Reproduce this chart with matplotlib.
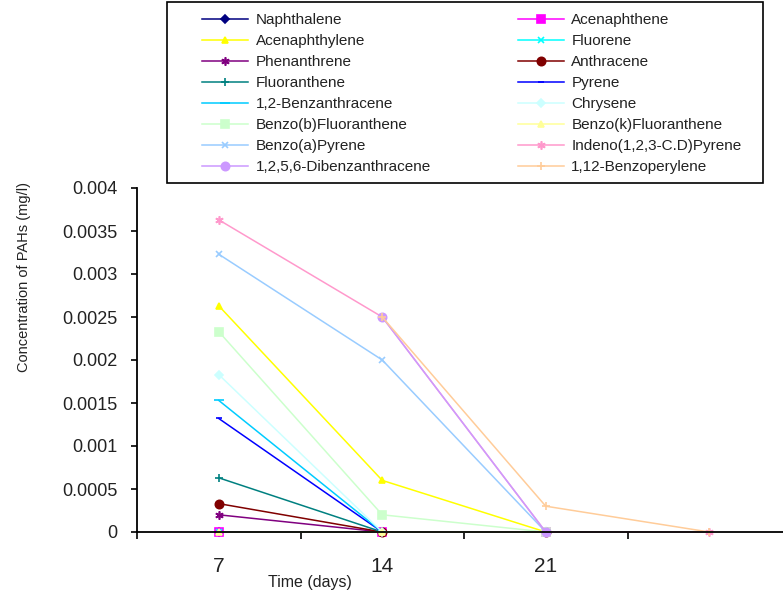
import numpy as np
import matplotlib.pyplot as plt
from matplotlib.patches import Rectangle

days = ["7", "14", "21", ""]
nan = np.nan

names = ["Naphthalene", "Acenaphthene", "Acenaphthylene", "Fluorene",
         "Phenanthrene", "Anthracene", "Fluoranthene", "Pyrene",
         "1,2-Benzanthracene", "Chrysene", "Benzo(b)Fluoranthene",
         "Benzo(k)Fluoranthene", "Benzo(a)Pyrene", "Indeno(1,2,3-C.D)Pyrene",
         "1,2,5,6-Dibenzanthracene", "1,12-Benzoperylene"]

naphthalene = [0, 0, 0, nan]
acenaphthene = [0, 0, 0, nan]
acenaphthylene = [0.00263, 0.0006, 0, nan]
fluorene = [0, 0, 0, nan]
phenanthrene = [0.0002, 0, 0, nan]
anthracene = [0.00033, 0, 0, nan]
fluoranthene = [0.00063, 0, 0, nan]
pyrene = [0.00132, 0, 0, nan]
benzanthracene = [0.00153, 0, 0, nan]
chrysene = [0.00183, 0, 0, nan]
benzo_b = [0.00233, 0.0002, 0, nan]
benzo_k = [0, 0, 0, nan]
benzo_a = [0.00323, 0.002, 0, nan]
indeno = [0.00363, 0.0025, 0, 0]
dibenz = [nan, 0.0025, 0, nan]
benzoperylene = [nan, 0.0025, 0.0003, 0]

series = [naphthalene, acenaphthene, acenaphthylene, fluorene, phenanthrene,
          anthracene, fluoranthene, pyrene, benzanthracene, chrysene, benzo_b,
          benzo_k, benzo_a, indeno, dibenz, benzoperylene]

colors = ["#000080", "#FF00FF", "#FFFF00", "#00FFFF", "#800080", "#800000",
          "#008080", "#0000FF", "#00CCFF", "#CCFFFF", "#CCFFCC", "#FFFF99",
          "#99CCFF", "#FF99CC", "#CC99FF", "#FFCC99"]
markers = ["D", "s", "^", "x", (6, 2, 0), "o", "+", "_", "_", "D", "s", "^",
           "x", (6, 2, 0), "o", "+"]
msizes = [4, 6, 5, 5, 6, 6, 6, 4, 7, 4, 6, 5, 5, 6, 6, 6]

plt.rcParams['font.family'] = ['Liberation Sans', 'DejaVu Sans']

fig = plt.figure(figsize=(7.83, 5.95), dpi=100)
ax = fig.add_axes([137 / 783, 63 / 595, 654 / 783, 344 / 595])

x = np.arange(len(days))
handles = []
for vals, name, c, m, ms in zip(series, names, colors, markers, msizes):
    h, = ax.plot(x, vals, color=c, marker=m, markersize=ms, linewidth=1.1,
                 markerfacecolor=c, markeredgecolor=c, markeredgewidth=1.2,
                 label=name, clip_on=False)
    handles.append(h)

ax.set_xlim(-0.5, 3.5)
ax.set_ylim(0, 0.004)
yt = np.arange(0, 0.00401, 0.0005)
ax.set_yticks(yt)
ax.set_yticklabels(["0", "0.0005", "0.001", "0.0015", "0.002", "0.0025",
                    "0.003", "0.0035", "0.004"], fontsize=13, color="#222222")
ax.set_xticks([-0.5, 0.5, 1.5, 2.5])
ax.set_xticklabels([])
ax.set_xticks(x, minor=True)
ax.set_xticklabels(days, minor=True, fontsize=15, color="#222222")
ax.tick_params(axis="x", which="minor", length=0, pad=18)
ax.tick_params(axis="x", which="major", length=5, direction="out", width=1.2)
ax.tick_params(axis="y", length=4, direction="out", width=1.2, pad=10)
for s in ["top", "right"]:
    ax.spines[s].set_visible(False)
for s in ["left", "bottom"]:
    ax.spines[s].set_linewidth(1.3)

fig.text(310 / 783, 1 - 582 / 595, "Time (days)", fontsize=11.5,
         ha="center", va="center", color="#222222")
fig.text(24 / 783, 1 - 277 / 595, "Concentration of PAHs (mg/l)",
         rotation=90, ha="center", va="center", fontsize=10.5, color="#222222")

# legend box drawn separately so the entries can sit where the original has them
fig.patches.append(Rectangle((167 / 783, 1 - 183 / 595), 596 / 783, 181 / 595,
                             transform=fig.transFigure, fill=False,
                             edgecolor="black", linewidth=1.2))
order = list(range(0, 16, 2)) + list(range(1, 16, 2))
leg = fig.legend([handles[i] for i in order], [names[i] for i in order],
                 ncol=2, loc="upper left",
                 bbox_to_anchor=(202 / 783, 1 - 13 / 595), fontsize=11,
                 frameon=False, handlelength=3.0, handletextpad=0.5,
                 columnspacing=5.7, labelspacing=0.46, borderpad=0,
                 borderaxespad=0)
for t in leg.get_texts():
    t.set_color("#222222")

fig.savefig("out.png", dpi=100)
